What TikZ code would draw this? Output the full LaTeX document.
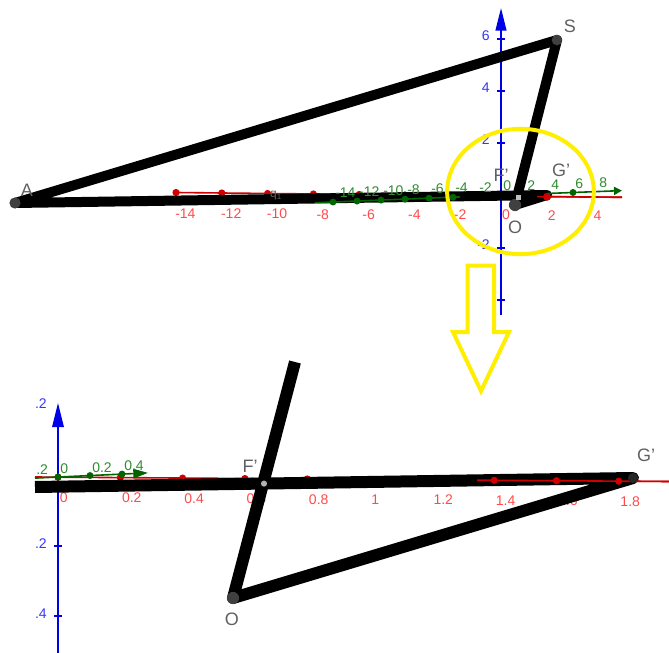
\documentclass[tikz,border=0pt]{standalone}
\usepackage{fontspec}
\setmainfont{Liberation Sans}
\usetikzlibrary{arrows.meta,calc}
\definecolor{PointGrey}{HTML}{606060}
\definecolor{DotGrey}{HTML}{404040}
\definecolor{AxisRed}{HTML}{D00000}
\definecolor{LabelRed}{HTML}{FF4A4A}
\definecolor{AxisGreen}{HTML}{006400}
\definecolor{LabelGreen}{HTML}{2E8B2E}
\definecolor{AxisBlue}{HTML}{0000E6}
\definecolor{LabelBlue}{HTML}{3535FF}
\definecolor{MarkYellow}{HTML}{FFEE00}
\tikzset{
  seg/.style={draw=black,line join=round},
  ptlabel/.style={text=PointGrey,font=\fontsize{13.5}{14}\selectfont,inner sep=0pt},
  axlabel/.style={font=\fontsize{10.5}{11}\selectfont,inner sep=0pt},
  redaxis/.style={draw=AxisRed,line width=1.2pt},
  greenaxis/.style={draw=AxisGreen,line width=1.2pt},
  blueaxis/.style={draw=AxisBlue,line width=1.5pt}
}

\begin{document}
\begin{tikzpicture}[x=0.75pt,y=-0.75pt]
  \useasboundingbox (0,0) rectangle (669,653);
  % upper view
  \coordinate (A) at (15,203);
  \coordinate (S) at (557,40);
  \coordinate (O) at (515,205);
  \coordinate (Gp) at (547,195);
  \coordinate (Fp) at (518,197);
  \coordinate (YB) at (501,315);
  \coordinate (YT) at (501,8);
  \coordinate (RL) at (176,192.5);
  \coordinate (RS) at (537,196.6);
  \coordinate (RR) at (622,197.3);
  \coordinate (GL) at (315,202.7);
  \coordinate (GM) at (460,196.9);
  \coordinate (GN) at (547,193.5);
  \coordinate (GR) at (622,190.6);

  \draw[blueaxis,-{Triangle[length=17pt,width=8pt]}] (YB) -- (YT);
  \foreach \t/\lab in {39/6,91/4,143/2,248/-2,300/-4} {
    \draw[blueaxis] (497,\t) -- (505,\t);
    \node[axlabel,text=LabelBlue,anchor=east] (yl\lab) at ({490},{\t-3}) {\lab};
  }

  \draw[redaxis] (RL) -- (RR);
  \foreach \k in {0,...,6}
    \fill[AxisRed] ({176+45.8*\k},{192.5+0.495*\k}) circle (2.7pt);
  \foreach \v in {-14,-12,...,4}
    \node[axlabel,text=LabelRed] (rt\v) at ({506+22.9*\v},{215+0.1*\v}) {\v};

  \draw[seg,line width=7.5pt] (A) -- (S) -- (O) -- (Gp) -- cycle;

  \draw[redaxis] (RS) -- (RR);
  \draw[redaxis] (593,193) -- (593,200);
  \fill[AxisRed] (547,196.8) circle (3pt);

  \draw[greenaxis] (GL) -- (GM);
  \draw[greenaxis,-{Triangle[length=6pt,width=6pt]}] (GN) -- (GR);
  \foreach \v in {-14,-12,...,-4,6}
    \fill[AxisGreen] ({501+12*\v},{202-0.0396*(168+12*\v)}) circle (2.6pt);
  \foreach \v in {-14,-12,...,8}
    \node[axlabel,text=LabelGreen,anchor=south west] (gt\v) at ({503+12*\v},{198-0.0396*(168+12*\v)}) {\v};

  \fill[DotGrey] (A) circle (4.2pt);
  \fill[DotGrey] (S) circle (4pt);
  \fill[DotGrey] (O) circle (4.6pt);
  \fill[black!25] ($(Fp)+(-2.5,-2.5)$) rectangle ($(Fp)+(2.5,2.5)$);
  \node[text=PointGrey,font=\fontsize{9}{9}\selectfont,inner sep=0pt] (lq) at (276,196) {q\textsubscript{1}};

  \node[ptlabel] (lA) at (27,190) {A};
  \node[ptlabel] (lS) at (570,26) {S};
  \node[ptlabel] (lF) at (501,175) {F'};
  \node[ptlabel] (lG) at (561,170) {G'};
  \node[ptlabel] (lO) at (515,227) {O};

  \draw[MarkYellow,line width=3pt] (520.5,191.5) ellipse [x radius=55pt,y radius=47pt];
  \draw[MarkYellow,line width=3pt,fill=white,line join=miter]
    (467.5,265.5) -- (494,265.5) -- (494,332) -- (509,332) -- (481,391)
    -- (453,332) -- (467.5,332) -- cycle;

  % lower view
  \coordinate (Lb) at (35,487);
  \coordinate (Gb) at (633,478);
  \coordinate (Ob) at (233,598);
  \coordinate (Fb) at (264,483.6);
  \coordinate (Tb) at (295,362);
  \coordinate (YBb) at (58,653);
  \coordinate (YTb) at (58,403);
  \coordinate (RbL) at (35,477);
  \coordinate (RbS) at (477,480.2);
  \coordinate (RbR) at (669,481.5);
  \coordinate (GbL) at (35,478.1);
  \coordinate (GbR) at (148,472.9);

  \draw[blueaxis,-{Triangle[length=18pt,width=8.5pt]}] (YBb) -- (YTb);
  \foreach \t/\lab in {546/.2,616/.4} {
    \draw[blueaxis] (54,\t) -- (62,\t);
    \node[axlabel,text=LabelBlue,anchor=east] (ylb\t) at ({47},{\t-2}) {\lab};
  }
  \node[axlabel,text=LabelBlue,anchor=east] (ylbtop) at (47,404) {.2};

  \draw[redaxis] (RbL) -- (RbR);
  \foreach \lab [count=\k from 0] in {0,0.2,0.4,0.6,0.8,1,1.2,1.4,1.6,1.8} {
    \fill[AxisRed] ({58+62.3*\k},{477.2+0.444*\k}) circle (2.7pt);
    \node[axlabel,text=LabelRed,anchor=north west] (rb\k) at ({59.5+62.3*\k},{492.2+0.444*\k}) {\lab};
  }

  \draw[seg,line width=9pt] (Lb) -- (Gb) -- (Ob) -- (Tb);

  \draw[redaxis] (RbS) -- (RbR);
  \foreach \k in {7,8,9}
    \fill[AxisRed] ({58+62.3*\k},{477.2+0.444*\k}) circle (2.7pt);

  \draw[greenaxis,-{Triangle[length=11pt,width=7pt]}] (GbL) -- (GbR);
  \foreach \x in {58,90,122}
    \fill[AxisGreen] ({\x},{477-0.046*(\x-58)}) circle (2.6pt);
  \foreach \x/\lab in {36/.2,60/0,92/0.2,124/0.4}
    \node[axlabel,text=LabelGreen,anchor=south west] (gb\x) at ({\x},{474-0.046*(\x-58)}) {\lab};

  \fill[DotGrey] (Ob) circle (4.6pt);
  \fill[black!85] (Gb) circle (3.8pt);
  \fill[black!30] (Fb) circle (2.3pt);

  \node[ptlabel] (lFb) at (250,466) {F'};
  \node[ptlabel] (lGb) at (646,455) {G'};
  \node[ptlabel] (lOb) at (232,619) {O};
\end{tikzpicture}
\end{document}
